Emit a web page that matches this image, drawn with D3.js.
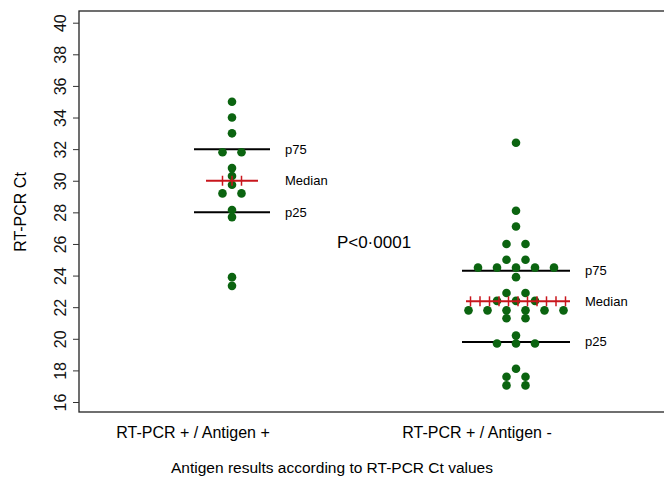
<!DOCTYPE html>
<html>
<head>
<meta charset="utf-8">
<script src="https://cdn.jsdelivr.net/npm/d3@7"></script>
<style>
  body { margin: 0; background: #fff; }
  svg { font-family: "Liberation Sans", Arial, sans-serif; }
</style>
</head>
<body>
<div id="chart"></div>
<script>
// groups and Ct values
const groups = ["RT-PCR + / Antigen +", "RT-PCR + / Antigen -"];
const ctAgPos = [35.0, 34.0, 33.0, 31.8, 31.8, 30.8, 30.3, 29.75, 29.2, 29.2, 28.15, 27.7, 23.9, 23.35];
const ctAgNeg = [32.4, 28.1, 27.1, 26.0, 26.0, 25.0, 25.0, 24.5, 24.5, 24.5, 24.5, 24.5,
  23.9, 22.9, 22.9, 22.4, 22.4, 22.4, 21.8, 21.8, 21.8, 21.8, 21.8, 21.8,
  21.3, 21.3, 20.2, 19.7, 19.7, 19.7, 18.1, 17.6, 17.6, 17.05, 17.05];
const p25 = [28.0, 19.8];
const medians = [30.0, 22.37];
const p75 = [32.0, 24.3];
const yTicks = [16, 18, 20, 22, 24, 26, 28, 30, 32, 34, 36, 38, 40];
const pText = "P<0·0001";

(function () {
  const width = 664, height = 477;
  const svg = d3.select("#chart").append("svg")
    .attr("width", width)
    .attr("height", height);

  const x = d3.scalePoint().domain(groups).range([232, 516]);
  const y = d3.scaleLinear().domain([16, 40]).range([402, 22.7]);

  // frame
  svg.append("rect")
    .attr("x", 79).attr("y", 11)
    .attr("width", 600).attr("height", 401)
    .attr("fill", "none")
    .attr("stroke", "#222")
    .attr("stroke-width", 1.3);

  // y axis
  const yAxis = svg.append("g")
    .attr("transform", "translate(79,0)")
    .call(d3.axisLeft(y).tickValues(yTicks).tickSize(6).tickFormat(d3.format("d")));
  yAxis.select(".domain").remove();
  yAxis.selectAll(".tick line").attr("stroke", "#333");
  yAxis.selectAll(".tick text")
    .attr("x", 0).attr("dy", null)
    .attr("transform", "translate(-13,0) rotate(-90)")
    .attr("text-anchor", "middle")
    .attr("font-size", "16px")
    .attr("fill", "#111");

  svg.append("text")
    .attr("transform", "translate(26,212) rotate(-90)")
    .attr("text-anchor", "middle")
    .attr("font-size", "16px")
    .text("RT-PCR Ct");

  // category labels
  svg.selectAll(".cat")
    .data(groups)
    .join("text")
    .attr("class", "cat")
    .attr("x", (d) => x(d) - 39)
    .attr("y", 438)
    .attr("text-anchor", "middle")
    .attr("font-size", "16px")
    .text((d) => d);

  svg.append("text")
    .attr("x", 332).attr("y", 473)
    .attr("text-anchor", "middle")
    .attr("font-size", "15.5px")
    .text("Antigen results according to RT-PCR Ct values");

  // swarm layout: equal values spread side by side
  const step = 19;
  function swarm(vals, g) {
    const counts = d3.rollup(vals, (v) => v.length, (d) => d);
    const seen = new Map();
    return vals.map((v) => {
      const n = counts.get(v);
      const i = seen.get(v) || 0;
      seen.set(v, i + 1);
      return { g, v, dx: (i - (n - 1) / 2) * step };
    });
  }
  const pts = swarm(ctAgPos, groups[0]).concat(swarm(ctAgNeg, groups[1]));

  const qHalf = [38, 54];
  const mHalf = [26, 52];
  const mTicks = [1, 5];

  groups.forEach((g, k) => {
    const cx = x(g);
    [p75[k], p25[k]].forEach((q) => {
      svg.append("line")
        .attr("x1", cx - qHalf[k]).attr("x2", cx + qHalf[k])
        .attr("y1", y(q)).attr("y2", y(q))
        .attr("stroke", "#000").attr("stroke-width", 2);
    });
  });

  svg.selectAll(".dot")
    .data(pts)
    .join("circle")
    .attr("class", "dot")
    .attr("cx", (d) => x(d.g) + d.dx)
    .attr("cy", (d) => y(d.v))
    .attr("r", 4.3)
    .attr("fill", "#0b6410");

  groups.forEach((g, k) => {
    const cx = x(g) + (k ? 2 : 0);
    const my = y(medians[k]);
    svg.append("line")
      .attr("x1", cx - mHalf[k]).attr("x2", cx + mHalf[k])
      .attr("y1", my).attr("y2", my)
      .attr("stroke", "#c8161d").attr("stroke-width", 2);
    d3.range(-mTicks[k], mTicks[k] + 1).forEach((j) => {
      svg.append("line")
        .attr("x1", cx + j * 9.5).attr("x2", cx + j * 9.5)
        .attr("y1", my - 5).attr("y2", my + 5)
        .attr("stroke", "#c8161d").attr("stroke-width", 1.5);
    });
    const lx = x(g) + qHalf[k] + 15;
    [["p75", p75[k]], ["Median", medians[k]], ["p25", p25[k]]].forEach(([t, v]) => {
      svg.append("text")
        .attr("x", lx).attr("y", y(v) + 4.5)
        .attr("font-size", "13px")
        .text(t);
    });
  });

  svg.append("text")
    .attr("x", 374).attr("y", 248)
    .attr("text-anchor", "middle")
    .attr("font-size", "17px")
    .text(pText);
})();
</script>
</body>
</html>
